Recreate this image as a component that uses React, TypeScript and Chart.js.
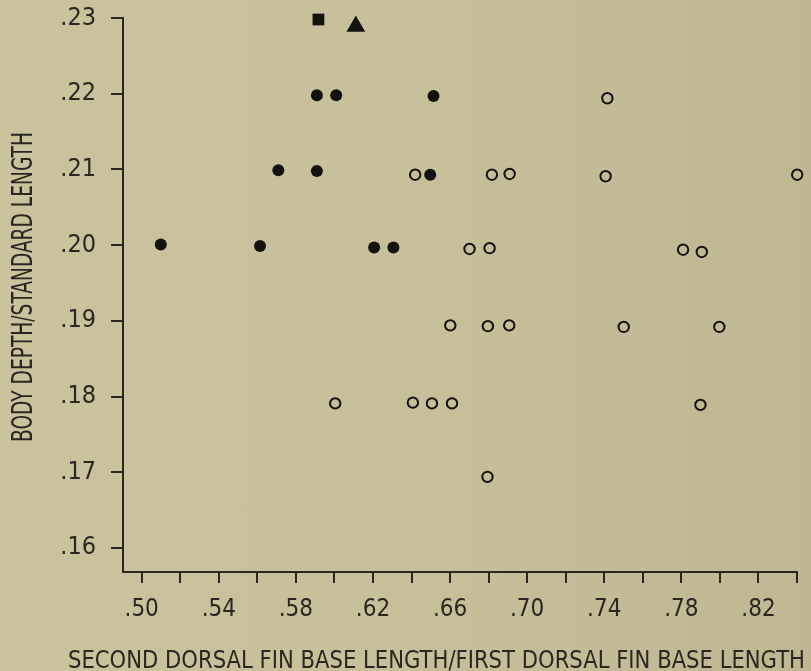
import React, { useEffect, useRef } from "react";
import { Chart, registerables } from "chart.js";

Chart.register(...registerables);

// ---------- data ----------
const xTitle = "SECOND DORSAL FIN BASE LENGTH/FIRST DORSAL FIN BASE LENGTH";
const yTitle = "BODY DEPTH/STANDARD LENGTH";

const xTickValues = [0.50, 0.52, 0.54, 0.56, 0.58, 0.60, 0.62, 0.64, 0.66, 0.68, 0.70, 0.72, 0.74, 0.76, 0.78, 0.80, 0.82, 0.84];
const xTickLabels = [".50", "", ".54", "", ".58", "", ".62", "", ".66", "", ".70", "", ".74", "", ".78", "", ".82", ""];
const yTickValues = [0.16, 0.17, 0.18, 0.19, 0.20, 0.21, 0.22, 0.23];
const yTickLabels = [".16", ".17", ".18", ".19", ".20", ".21", ".22", ".23"];

// filled circles
const filledX = [0.5099, 0.5614, 0.5709, 0.5909, 0.6009, 0.5909, 0.6514, 0.6497, 0.6206, 0.6306];
const filledY = [0.2001, 0.1999, 0.2099, 0.2198, 0.2198, 0.2098, 0.2197, 0.2093, 0.1997, 0.1997];

// open circles
const openX = [
  0.7416,
  0.6419, 0.6817, 0.6909, 0.7407, 0.8401,
  0.6701, 0.6805, 0.7809, 0.7906,
  0.6601, 0.6796, 0.6907, 0.7501, 0.7997,
  0.6004, 0.6407, 0.6506, 0.6610, 0.7899,
  0.6794,
];
const openY = [
  0.2194,
  0.2093, 0.2093, 0.2094, 0.2091, 0.2093,
  0.1995, 0.1996, 0.1994, 0.1991,
  0.1894, 0.1893, 0.1894, 0.1892, 0.1892,
  0.1791, 0.1792, 0.1791, 0.1791, 0.1789,
  0.1694,
];

// filled square
const squareX = [0.5917];
const squareY = [0.2298];

// filled triangle
const triangleX = [0.6111];
const triangleY = [0.2289];

// ---------- style ----------
const FONT = '"Liberation Sans Narrow", "DejaVu Sans Condensed", "Arial Narrow", "Roboto", sans-serif';
const INK = "#2a2720";
const MARK = "#14120e";
const W = 811;
const H = 671;

const pts = (xs: number[], ys: number[]) => xs.map((x, i) => ({ x, y: ys[i] }));

const titlePlugin = {
  id: "axisTitlesCondensed",
  afterDraw(chart: any) {
    const { ctx, chartArea } = chart;
    // x title
    ctx.save();
    ctx.fillStyle = INK;
    ctx.font = `25px ${FONT}`;
    ctx.textAlign = "left";
    ctx.textBaseline = "alphabetic";
    const wx = ctx.measureText(xTitle).width;
    const targetX = chartArea.right - chartArea.left + 63;
    ctx.translate(chartArea.left - 55, chartArea.bottom + 96);
    ctx.scale(targetX / wx, 1);
    ctx.fillText(xTitle, 0, 0);
    ctx.restore();
    // y title
    ctx.save();
    ctx.fillStyle = INK;
    ctx.font = `28px ${FONT}`;
    ctx.textAlign = "left";
    ctx.textBaseline = "alphabetic";
    const wy = ctx.measureText(yTitle).width;
    const targetY = 310;
    ctx.translate(chartArea.left - 91, chartArea.top + 424);
    ctx.rotate(-Math.PI / 2);
    ctx.scale(targetY / wy, 1);
    ctx.fillText(yTitle, 0, 0);
    ctx.restore();
  },
};

export default function App() {
  const ref = useRef<HTMLCanvasElement | null>(null);

  useEffect(() => {
    if (!ref.current) return;
    const chart = new Chart(ref.current, {
      type: "scatter",
      data: {
        datasets: [
          {
            label: "filled",
            data: pts(filledX, filledY),
            pointStyle: "circle",
            pointRadius: 6,
            backgroundColor: MARK,
            borderColor: MARK,
            borderWidth: 0,
            clip: false,
          } as any,
          {
            label: "open",
            data: pts(openX, openY),
            pointStyle: "circle",
            pointRadius: 5.2,
            backgroundColor: "rgba(0,0,0,0)",
            borderColor: MARK,
            borderWidth: 2,
            clip: false,
          } as any,
          {
            label: "square",
            data: pts(squareX, squareY),
            pointStyle: "rect",
            pointRadius: 8.3,
            backgroundColor: MARK,
            borderColor: MARK,
            borderWidth: 0,
            clip: false,
          } as any,
          {
            label: "triangle",
            data: pts(triangleX, triangleY),
            pointStyle: "triangle",
            pointRadius: 10.8,
            backgroundColor: MARK,
            borderColor: MARK,
            borderWidth: 0,
            clip: false,
          } as any,
        ],
      },
      options: {
        animation: false,
        responsive: false,
        events: [],
        layout: { padding: { top: 18, right: 14, left: 0, bottom: 0 } },
        plugins: {
          legend: { display: false },
          tooltip: { enabled: false },
          title: { display: false },
        },
        scales: {
          x: {
            type: "linear",
            min: 0.4903,
            max: 0.84,
            afterBuildTicks: (scale: any) => {
              scale.ticks = xTickValues.map((v) => ({ value: v }));
            },
            afterFit: (scale: any) => {
              scale.height = 99;
              scale.paddingLeft = 0;
              scale.paddingRight = 0;
            },
            ticks: {
              autoSkip: false,
              maxRotation: 0,
              minRotation: 0,
              padding: 12,
              color: INK,
              font: { family: FONT, size: 24 },
              callback: (_v: any, i: number) => xTickLabels[i],
            },
            grid: {
              drawOnChartArea: false,
              drawTicks: true,
              tickLength: 11,
              lineWidth: 2,
              color: INK,
            },
            border: { display: true, color: INK, width: 2 },
            title: { display: false },
          },
          y: {
            type: "linear",
            min: 0.15683,
            max: 0.23,
            afterBuildTicks: (scale: any) => {
              scale.ticks = yTickValues.map((v) => ({ value: v }));
            },
            afterFit: (scale: any) => {
              scale.width = 123;
              scale.paddingTop = 0;
              scale.paddingBottom = 0;
            },
            ticks: {
              autoSkip: false,
              padding: 15,
              color: INK,
              font: { family: FONT, size: 25 },
              callback: (_v: any, i: number) => yTickLabels[i],
            },
            grid: {
              drawOnChartArea: false,
              drawTicks: true,
              tickLength: 12,
              lineWidth: 2,
              color: INK,
            },
            border: { display: true, color: INK, width: 2 },
            title: { display: false },
          },
        },
      } as any,
      plugins: [titlePlugin],
    });
    return () => chart.destroy();
  }, []);

  return (
    <div
      style={{
        position: "fixed",
        left: 0,
        top: 0,
        width: W,
        height: H,
        background: "linear-gradient(to right, #cac39d 0%, #c6bf99 55%, #bfb791 100%)",
      }}
    >
      <canvas ref={ref} width={W} height={H} style={{ display: "block", width: W, height: H }} />
    </div>
  );
}
